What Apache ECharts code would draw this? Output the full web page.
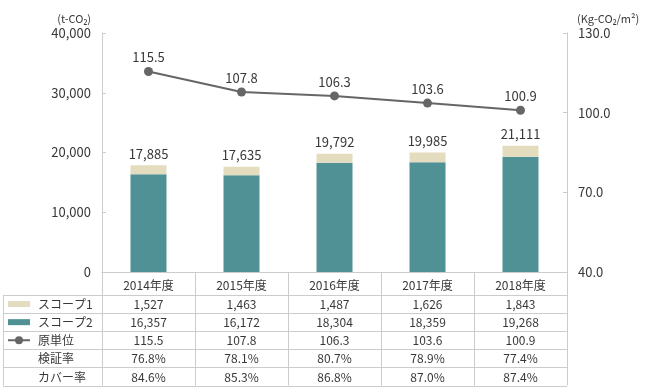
<!DOCTYPE html>
<html><head><meta charset="utf-8">
<script src="https://cdn.jsdelivr.net/npm/echarts@6/dist/echarts.min.js"></script>
<style>html,body{margin:0;padding:0;background:#fff}#c{width:646px;height:387px}</style>
</head><body><div id="c"></div>
<script>
var categories = ['2014年度','2015年度','2016年度','2017年度','2018年度'];
var scope1 = [1527, 1463, 1487, 1626, 1843];
var scope2 = [16357, 16172, 18304, 18359, 19268];
var totals = [17885, 17635, 19792, 19985, 21111];
var intensity = [115.5, 107.8, 106.3, 103.6, 100.9];
var verifyRate = ['76.8%','78.1%','80.7%','78.9%','77.4%'];
var coverRate = ['84.6%','85.3%','86.8%','87.0%','87.4%'];
var rowNames = ['スコープ1','スコープ2','原単位','検証率','カバー率'];
var leftTicks = [0, 40000, 10000];
var rightTicks = [40, 130, 30];

var FONT = '"Noto Sans CJK JP", "Noto Sans", sans-serif';
var TXT = '#383838';
var C1 = '#e3dcbf', C2 = '#4f9194', CL = '#666666', LINE = '#cccccc';
function fmt(n){ return n.toLocaleString('en-US'); }

var chart = echarts.init(document.getElementById('c'), null, {renderer:'canvas'});
var G = {left:102, right:79, top:33, bottom:115};
chart.setOption({
  animation:false,
  textStyle:{fontFamily:FONT},
  grid:G,
  xAxis:{type:'category', data:categories,
    axisLine:{show:true, lineStyle:{color:LINE}}, axisTick:{show:false},
    axisLabel:{color:TXT, fontSize:12, fontFamily:FONT, margin:7}},
  yAxis:[
    {type:'value', min:leftTicks[0], max:leftTicks[1], interval:leftTicks[2],
     name:'(t-CO₂)', nameGap:9, nameTextStyle:{color:TXT, fontSize:11, fontFamily:FONT, align:'right', padding:[0,11,0,0]},
     axisLine:{show:true, lineStyle:{color:LINE}}, axisTick:{show:true, inside:true, length:4, lineStyle:{color:LINE}},
     splitLine:{show:false},
     axisLabel:{color:TXT, fontSize:13, fontFamily:FONT, margin:11, formatter:function(v){return fmt(v);}}},
    {type:'value', min:rightTicks[0], max:rightTicks[1], interval:rightTicks[2],
     name:'(Kg-CO₂/m²)', nameGap:9, nameTextStyle:{color:TXT, fontSize:11, fontFamily:FONT, align:'left', padding:[0,0,0,10]},
     axisLine:{show:true, lineStyle:{color:LINE}}, axisTick:{show:true, inside:true, length:4, lineStyle:{color:LINE}},
     splitLine:{show:false},
     axisLabel:{color:TXT, fontSize:13, fontFamily:FONT, margin:11, formatter:function(v){return v.toFixed(1);}}}
  ],
  series:[
    {name:'スコープ2', type:'bar', stack:'s', data:scope2, barWidth:36, itemStyle:{color:C2}},
    {name:'スコープ1', type:'bar', stack:'s', data:scope1, barWidth:36, itemStyle:{color:C1},
     label:{show:true, position:'top', distance:5, color:TXT, fontSize:13, fontFamily:FONT,
       formatter:function(p){return fmt(totals[p.dataIndex]);}}},
    {name:'原単位', type:'line', yAxisIndex:1, data:intensity, symbol:'circle', symbolSize:9,
     lineStyle:{color:CL, width:2}, itemStyle:{color:CL},
     label:{show:true, position:'top', distance:3, color:TXT, fontSize:13, fontFamily:FONT,
       formatter:function(p){return p.value.toFixed(1);}}}
  ]
});

// table below the plot
var xs = categories.map(function(c,i){ return chart.convertToPixel({xAxisIndex:0}, i); });
var colW = xs.length>1 ? xs[1]-xs[0] : 93;
var x0 = xs[0]-colW/2, xEnd = xs[xs.length-1]+colW/2;
var yTop = chart.convertToPixel({yAxisIndex:0}, 0);
var rowTop = 295, rowH = 18.1, tableLeft = 3;
var els = [];
var lineStyle = {stroke:LINE, lineWidth:1};
function hl(x1,y,x2){ els.push({type:'line', shape:{x1:x1,y1:y,x2:x2,y2:y}, style:lineStyle, silent:true}); }
function vl(x,y1,y2){ els.push({type:'line', shape:{x1:x,y1:y1,x2:x,y2:y2}, style:lineStyle, silent:true}); }
var bottom = rowTop + rowH*5;
for (var r=0;r<=5;r++) hl(tableLeft, Math.round(rowTop + rowH*r)+0.5, xEnd);
vl(tableLeft+0.5, rowTop, bottom);
for (var k=0;k<=categories.length;k++) vl(Math.round(x0+colW*k)+0.5, yTop, bottom);
var rows = [scope1.map(fmt), scope2.map(fmt), intensity.map(function(v){return v.toFixed(1);}), verifyRate, coverRate];
rows.forEach(function(vals, r){
  var cy = rowTop + rowH*r + rowH/2 + 0.5;
  els.push({type:'text', x:38, y:cy, style:{text:rowNames[r], fill:TXT, font:'12px '+FONT, textVerticalAlign:'middle', textAlign:'left'}, silent:true});
  vals.forEach(function(v,i){
    els.push({type:'text', x:xs[i], y:cy, style:{text:v, fill:TXT, font:'12px '+FONT, textVerticalAlign:'middle', textAlign:'center'}, silent:true});
  });
});
// legend keys
var k1 = rowTop + rowH*0.5, k2 = rowTop + rowH*1.5, k3 = rowTop + rowH*2.5;
els.push({type:'rect', shape:{x:8, y:k1-3, width:22, height:6}, style:{fill:C1}, silent:true});
els.push({type:'rect', shape:{x:8, y:k2-3, width:22, height:6}, style:{fill:C2}, silent:true});
els.push({type:'line', shape:{x1:8, y1:k3, x2:30, y2:k3}, style:{stroke:CL, lineWidth:2}, silent:true});
els.push({type:'circle', shape:{cx:19, cy:k3, r:4}, style:{fill:CL}, silent:true});
chart.setOption({graphic:els});
</script></body></html>
